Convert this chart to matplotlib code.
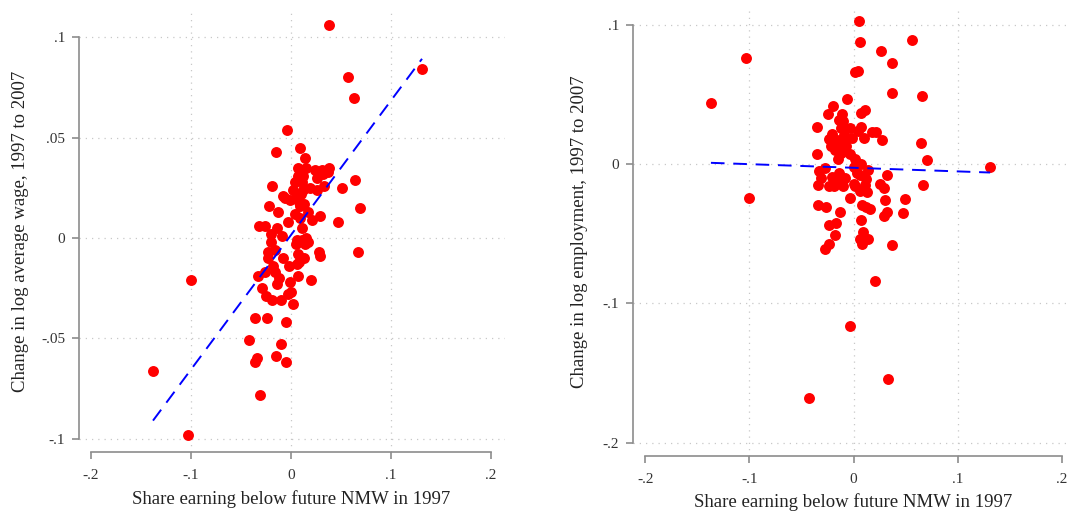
import matplotlib; matplotlib.use('Agg')
import matplotlib.pyplot as plt
import numpy as np

plt.rcParams['font.family'] = ['Liberation Serif', 'DejaVu Serif']

# share earning below future NMW in 1997 (x) vs change in log average wage (y)
wage_x = [0.038, 0.131, 0.057, 0.063, -0.004, 0.009, -0.015, 0.014, 0.007, 0.015,
          0.024, 0.031, 0.038, 0.037, 0.032, 0.007, 0.012, 0.026, 0.064, 0.011,
          -0.019, 0.033, 0.051, 0.026, 0.012, 0.002, 0.006, -0.008, -0.001, 0.008,
          0.009, -0.022, 0.069, -0.013, 0.017, 0.004, 0.029, 0.021, 0.009, -0.003,
          0.047, -0.032, -0.026, -0.014, 0.011, -0.020, -0.009, 0.006, 0.015, 0.011,
          0.017, 0.005, -0.020, 0.014, -0.023, -0.016, 0.028, 0.067, 0.007, 0.029,
          -0.023, -0.008, 0.013, 0.008, 0.006, -0.002, -0.026, -0.018, -0.016, -0.012,
          -0.033, 0.007, 0.020, -0.100, -0.001, -0.014, -0.029, 0.000, -0.003, -0.025,
          -0.019, -0.010, 0.002, -0.036, -0.024, -0.005, -0.042, -0.010, -0.034, -0.015,
          -0.036, -0.005, -0.138, -0.031, -0.103, 0.004, 0.010, -0.006, 0.013, 0.019]
wage_y = [0.106, 0.084, 0.080, 0.070, 0.054, 0.045, 0.043, 0.040, 0.035, 0.035,
          0.034, 0.034, 0.035, 0.033, 0.032, 0.031, 0.031, 0.030, 0.029, 0.028,
          0.026, 0.026, 0.025, 0.024, 0.024, 0.024, 0.022, 0.021, 0.019, 0.018,
          0.016, 0.016, 0.015, 0.013, 0.013, 0.012, 0.011, 0.009, 0.010, 0.008,
          0.008, 0.006, 0.006, 0.005, 0.005, 0.002, 0.001, -0.001, 0.000, -0.001,
          -0.002, -0.003, -0.002, -0.003, -0.007, -0.006, -0.007, -0.007, -0.008, -0.009,
          -0.010, -0.010, -0.010, -0.012, -0.013, -0.014, -0.017, -0.014, -0.017, -0.020,
          -0.019, -0.019, -0.021, -0.021, -0.022, -0.023, -0.025, -0.027, -0.028, -0.029,
          -0.031, -0.031, -0.033, -0.040, -0.040, -0.042, -0.051, -0.053, -0.060, -0.059,
          -0.062, -0.062, -0.066, -0.078, -0.098, 0.028, 0.022, 0.020, 0.017, 0.025]

# same x vs change in log employment
emp_x = [0.005, 0.006, 0.056, -0.103, 0.026, 0.037, 0.001, 0.004, -0.137, 0.037,
         0.066, -0.006, -0.020, -0.025, -0.011, 0.011, 0.007, -0.014, -0.010, -0.035,
         -0.012, -0.004, 0.007, 0.004, 0.018, 0.021, -0.021, -0.024, -0.016, -0.008,
         -0.002, 0.010, 0.027, 0.065, -0.022, -0.013, -0.007, -0.012, -0.035, -0.004,
         -0.015, 0.001, 0.070, 0.007, 0.131, -0.028, 0.000, 0.014, -0.033, 0.032,
         0.006, -0.021, -0.008, -0.031, 0.012, -0.016, 0.000, 0.025, 0.011, -0.034,
         -0.024, -0.019, -0.010, 0.001, 0.067, 0.029, 0.006, -0.004, -0.100, 0.030,
         0.049, 0.008, -0.034, -0.027, 0.012, 0.016, 0.032, -0.013, 0.047, 0.029,
         0.007, -0.017, -0.024, 0.009, -0.018, 0.006, 0.014, 0.008, 0.037, -0.024,
         -0.028, 0.020, -0.004, 0.033, -0.043, -0.018, -0.009, 0.003, 0.013, -0.014]
emp_y = [0.103, 0.088, 0.089, 0.076, 0.081, 0.073, 0.066, 0.067, 0.044, 0.051,
         0.049, 0.047, 0.042, 0.036, 0.036, 0.039, 0.037, 0.032, 0.031, 0.027,
         0.026, 0.026, 0.027, 0.024, 0.023, 0.023, 0.022, 0.018, 0.017, 0.018,
         0.019, 0.019, 0.017, 0.015, 0.013, 0.013, 0.013, 0.008, 0.007, 0.007,
         0.004, 0.004, 0.003, 0.000, -0.002, -0.003, -0.002, -0.004, -0.005, -0.008,
         -0.008, -0.009, -0.010, -0.010, -0.011, -0.012, -0.014, -0.014, -0.015, -0.015,
         -0.016, -0.016, -0.016, -0.016, -0.015, -0.017, -0.019, -0.024, -0.024, -0.026,
         -0.025, -0.029, -0.029, -0.031, -0.031, -0.032, -0.034, -0.034, -0.035, -0.037,
         -0.040, -0.042, -0.044, -0.049, -0.051, -0.054, -0.054, -0.057, -0.058, -0.057,
         -0.061, -0.084, -0.116, -0.154, -0.168, 0.010, 0.021, -0.006, -0.020, -0.006]

# fitted lines: intercept, slope
wage_fit = (0.0015, 0.67)
emp_fit = (-0.0026, -0.026)

x_label = 'Share earning below future NMW in 1997'
wage_label = 'Change in log average wage, 1997 to 2007'
emp_label = 'Change in log employment, 1997 to 2007'
wage_yticks = [-0.1, -0.05, 0, 0.05, 0.1]
wage_yticklabels = ['-.1', '-.05', '0', '.05', '.1']
emp_yticks = [-0.2, -0.1, 0, 0.1]
emp_yticklabels = ['-.2', '-.1', '0', '.1']
xticks = [-0.2, -0.1, 0, 0.1, 0.2]
xticklabels = ['-.2', '-.1', '0', '.1', '.2']

W, H = 1068, 511
fig = plt.figure(figsize=(W/100, H/100), dpi=100)

def panel(rect, xlim, ylim, xs, ys, fit, yt, ytl, ylab, ylab_xy, xlab_xy):
    ax = fig.add_axes(rect)
    ax.set_xlim(*xlim); ax.set_ylim(*ylim)
    for v in [-0.1, 0, 0.1]:
        ax.axvline(v, color='#c8c8c8', lw=0.9, ls=(0, (1, 4)), zorder=0)
    for v in yt:
        ax.axhline(v, color='#c8c8c8', lw=0.9, ls=(0, (1, 4)), zorder=0)
    ax.scatter(xs, ys, s=62, color='#ff0000', linewidths=0, zorder=3)
    xs = np.array(xs)
    lx = np.array([xs.min(), xs.max()])
    ax.plot(lx, fit[0] + fit[1]*lx, color='#0000ff', lw=1.4, dashes=(7, 4.5), zorder=4)
    for s in ['top', 'right']:
        ax.spines[s].set_visible(False)
    for s in ['left', 'bottom']:
        ax.spines[s].set_color('#8c8c8c'); ax.spines[s].set_linewidth(1.2)
    ax.spines['left'].set_bounds(yt[0], yt[-1])
    ax.spines['bottom'].set_bounds(xticks[0], xticks[-1])
    ax.set_xticks(xticks); ax.set_xticklabels(xticklabels)
    ax.set_yticks(yt); ax.set_yticklabels(ytl)
    ax.tick_params(colors='#8c8c8c', labelcolor='#333333', labelsize=11, length=5, width=1.2)
    ax.tick_params(axis='x', pad=7)
    ax.tick_params(axis='y', pad=5)
    ax.set_ylabel(ylab, fontsize=13.5, color='#222222')
    ax.yaxis.set_label_coords(*ylab_xy)
    ax.yaxis.label.set_va('center')
    ax.set_xlabel(x_label, fontsize=13.5, color='#222222')
    ax.xaxis.set_label_coords(*xlab_xy)
    ax.xaxis.label.set_va('center')
    ax.patch.set_visible(False)
    return ax

# left panel: x px = 291 + 1000*x, y px = 238 - 2007*y
panel([79/W, (H-452)/H, 426/W, 439/H], (-0.212, 0.214), (-0.1066, 0.1121),
      wage_x, wage_y, wage_fit, wage_yticks, wage_yticklabels, wage_label,
      (-0.138, 0.503), (0.498, -0.107))
# right panel: x px = 853.7 + 1042*x, y px = 164.3 - 1392*y
panel([633/W, (H-456)/H, 435/W, 445/H], (-0.2118, 0.2057), (-0.2096, 0.110),
      emp_x, emp_y, emp_fit, emp_yticks, emp_yticklabels, emp_label,
      (-0.122, 0.503), (0.506, -0.103))

plt.savefig('out.png', dpi=100)
